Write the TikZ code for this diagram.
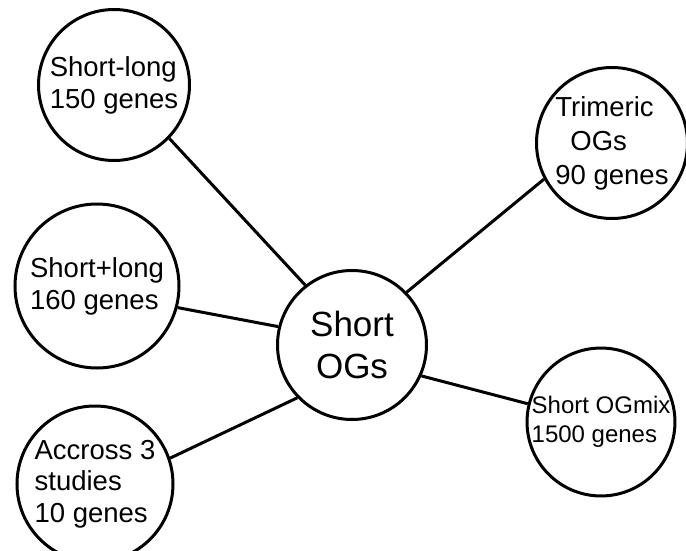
\documentclass[tikz,border=0pt]{standalone}
\usepackage{fontspec}
\setmainfont{Liberation Sans}
\usetikzlibrary{positioning}

\begin{document}
\begin{tikzpicture}[x=1pt,y=-1pt,
bubble/.style={draw,circle,line width=3pt,inner sep=0pt,align=left,font=\fontsize{27.5}{32}\selectfont},
link/.style={line width=3pt}]
\useasboundingbox (0,0) rectangle (686,551);
\node[bubble,minimum size=149pt,align=center,font=\fontsize{35}{42}\selectfont] (og) at (352,345) {Short\\OGs};
\node[bubble,minimum size=151pt] (sl) at (114,85) {Short-long\\150 genes};
\node[bubble,minimum size=164pt] (sp) at (97,286) {Short+long\\160 genes};
\node[bubble,minimum size=156pt,font=\fontsize{27.5}{31.5}\selectfont] (ac) at (95,484) {Accross 3\\studies\\10 genes};
\node[bubble,minimum size=151pt,font=\fontsize{27.5}{34}\selectfont] (tr) at (612,143) {Trimeric\\\hspace*{15pt}OGs\\90 genes};
\node[bubble,minimum size=146pt,font=\fontsize{24}{29}\selectfont] (mx) at (601,422) {Short OGmix\\1500 genes};
\foreach \u/\a/\v/\b in {og/128/sl/316,og/44/tr/208,og/166/sp/345,og/224/ac/19,og/336/mx/166}{\draw[link] (\u.\a)--(\v.\b);}
\end{tikzpicture}
\end{document}
